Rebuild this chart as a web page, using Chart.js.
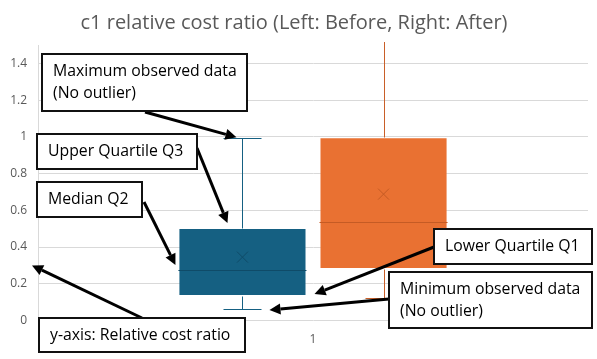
<!DOCTYPE html>
<html lang="en">
<head>
<meta charset="UTF-8">
<title>c1 relative cost ratio</title>
<script src="https://cdn.jsdelivr.net/npm/chart.js"></script>
<style>
  html, body { margin: 0; padding: 0; background: #fff; }
  #wrap { width: 597px; height: 359px; }
</style>
</head>
<body>
<div id="wrap"><canvas id="boxChart"></canvas></div>
<script>
// box plot values (left = Before, right = After)
const categories = ['1'];
const seriesNames = ['Before', 'After'];
const minValues = [0.063, 0.122];
const q1Values = [0.133, 0.28];
const medianValues = [0.275, 0.536];
const meanValues = [0.345, 0.688];
const q3Values = [0.503, 0.998];
const maxValues = [0.992, 1.8];
const yTicks = [0, 0.2, 0.4, 0.6, 0.8, 1, 1.2, 1.4];

const fillColors = ['#156082', '#e97132'];
const lineColors = ['#156082', '#c95f28'];
const innerColors = ['#0f4b68', '#c55b24'];

const FONT = "'Open Sans', sans-serif";

// whiskers, median line and mean cross on top of the floating bars
const boxExtras = {
  id: 'boxExtras',
  afterDatasetsDraw(chart) {
    const ctx = chart.ctx;
    const y = chart.scales.y;
    const area = chart.chartArea;
    ctx.save();
    ctx.beginPath();
    ctx.rect(area.left, area.top - 3, area.right - area.left, area.bottom - area.top + 3);
    ctx.clip();
    ctx.lineWidth = 1;
    chart.data.datasets.forEach((ds, i) => {
      const bar = chart.getDatasetMeta(i).data[0];
      const cx = Math.round(bar.x) + 0.5;
      const half = bar.width / 2;
      const cap = 19;
      const py = v => Math.round(y.getPixelForValue(v)) + 0.5;

      ctx.strokeStyle = lineColors[i];
      ctx.beginPath();
      ctx.moveTo(cx, py(q3Values[i]));
      ctx.lineTo(cx, py(maxValues[i]));
      ctx.moveTo(cx, py(q1Values[i]));
      ctx.lineTo(cx, py(minValues[i]));
      ctx.moveTo(cx - cap, py(maxValues[i]));
      ctx.lineTo(cx + cap, py(maxValues[i]));
      ctx.moveTo(cx - cap, py(minValues[i]));
      ctx.lineTo(cx + cap, py(minValues[i]));
      ctx.stroke();

      ctx.strokeStyle = innerColors[i];
      ctx.beginPath();
      ctx.moveTo(bar.x - half, py(medianValues[i]));
      ctx.lineTo(bar.x + half, py(medianValues[i]));
      const my = y.getPixelForValue(meanValues[i]);
      const m = 5.5;
      ctx.moveTo(bar.x - m, my - m);
      ctx.lineTo(bar.x + m, my + m);
      ctx.moveTo(bar.x + m, my - m);
      ctx.lineTo(bar.x - m, my + m);
      ctx.stroke();
    });
    ctx.restore();
  }
};

// callout boxes with arrows, as pasted on the original sheet
const callouts = [
  { lines: ['Maximum observed data', '(No outlier)'], box: [42, 54, 205, 57], from: [145, 112],
    to: (c, b) => [b[0].x - 6, c.scales.y.getPixelForValue(maxValues[0]) - 1] },
  { lines: ['Upper Quartile Q3'], box: [37, 134, 160, 35], from: [197, 148],
    to: (c, b) => [b[0].x - 15, c.scales.y.getPixelForValue(q3Values[0]) - 5] },
  { lines: ['Median Q2'], box: [37, 182, 105, 35], from: [144, 202],
    to: (c, b) => [b[0].x - b[0].width / 2 - 3, c.scales.y.getPixelForValue(medianValues[0]) - 5] },
  { lines: ['y-axis: Relative cost ratio'], box: [39, 318, 206, 34], from: [142, 318],
    to: (c, b) => [c.chartArea.left - 6, c.scales.y.getPixelForValue(0.3)] },
  { lines: ['Lower Quartile Q1'], box: [434, 229, 158, 35], from: [434, 247],
    to: (c, b) => [b[0].x + b[0].width / 2 + 8, c.scales.y.getPixelForValue(q1Values[0]) - 2] },
  { lines: ['Minimum observed data', '(No outlier)'], box: [389, 272, 203, 56], from: [389, 299],
    to: (c, b) => [b[0].x + 27, c.scales.y.getPixelForValue(minValues[0]) + 1] }
];

function drawArrow(ctx, x1, y1, x2, y2) {
  const ang = Math.atan2(y2 - y1, x2 - x1);
  const len = 11, w = 5.5;
  const bx = x2 - Math.cos(ang) * len, by = y2 - Math.sin(ang) * len;
  ctx.lineWidth = 3;
  ctx.beginPath();
  ctx.moveTo(x1, y1);
  ctx.lineTo(bx, by);
  ctx.stroke();
  ctx.beginPath();
  ctx.moveTo(x2, y2);
  ctx.lineTo(bx + Math.sin(ang) * w, by - Math.cos(ang) * w);
  ctx.lineTo(bx - Math.sin(ang) * w, by + Math.cos(ang) * w);
  ctx.closePath();
  ctx.fill();
}

const calloutPlugin = {
  id: 'callouts',
  afterDraw(chart) {
    const ctx = chart.ctx;
    const bars = chart.data.datasets.map((d, i) => chart.getDatasetMeta(i).data[0]);
    ctx.save();
    ctx.strokeStyle = '#000';
    ctx.fillStyle = '#000';
    callouts.forEach(c => {
      const t = c.to(chart, bars);
      drawArrow(ctx, c.from[0], c.from[1], t[0], t[1]);
    });
    ctx.font = '15.8px ' + FONT;
    ctx.textBaseline = 'middle';
    callouts.forEach(c => {
      const [x, y, w, h] = c.box;
      ctx.fillStyle = '#fff';
      ctx.fillRect(x, y, w, h);
      ctx.lineWidth = 2;
      ctx.strokeStyle = '#111';
      ctx.strokeRect(x, y, w, h);
      ctx.fillStyle = '#000';
      const lh = 22;
      const top = y + h / 2 - (c.lines.length - 1) * lh / 2;
      c.lines.forEach((s, k) => ctx.fillText(s, x + 11, top + k * lh));
    });
    ctx.restore();
  }
};

new Chart(document.getElementById('boxChart'), {
  type: 'bar',
  data: {
    labels: categories,
    datasets: seriesNames.map((name, i) => ({
      label: name,
      data: [[q1Values[i], q3Values[i]]],
      backgroundColor: fillColors[i],
      borderColor: 'rgba(255,255,255,0.25)',
      borderWidth: 1,
      borderSkipped: false,
      categoryPercentage: 0.513,
      barPercentage: 0.908
    }))
  },
  options: {
    responsive: true,
    maintainAspectRatio: false,
    animation: false,
    layout: { padding: { top: 1, right: 9, bottom: 0, left: 0 } },
    plugins: {
      legend: { display: false },
      tooltip: { enabled: false },
      title: {
        display: true,
        text: 'c1 relative cost ratio (Left: Before, Right: After)',
        color: '#595959',
        font: { family: FONT, size: 20, weight: 'normal' },
        padding: { top: 10, bottom: 10 }
      }
    },
    scales: {
      x: {
        grid: { display: false, drawTicks: false },
        border: { display: false },
        ticks: { color: '#595959', font: { family: FONT, size: 12 }, padding: 12 },
        afterFit: s => { s.height = 38.5; }
      },
      y: {
        min: 0,
        max: 1.5,
        afterBuildTicks: s => { s.ticks = yTicks.map(v => ({ value: v })); },
        afterFit: s => { s.width = 38; },
        grid: { color: '#d9d9d9', drawTicks: false },
        border: { display: true, color: '#d9d9d9' },
        ticks: {
          color: '#595959',
          font: { family: FONT, size: 12 },
          padding: 11,
          callback: v => String(+v.toFixed(1))
        }
      }
    }
  },
  plugins: [boxExtras, calloutPlugin]
});
</script>
</body>
</html>
